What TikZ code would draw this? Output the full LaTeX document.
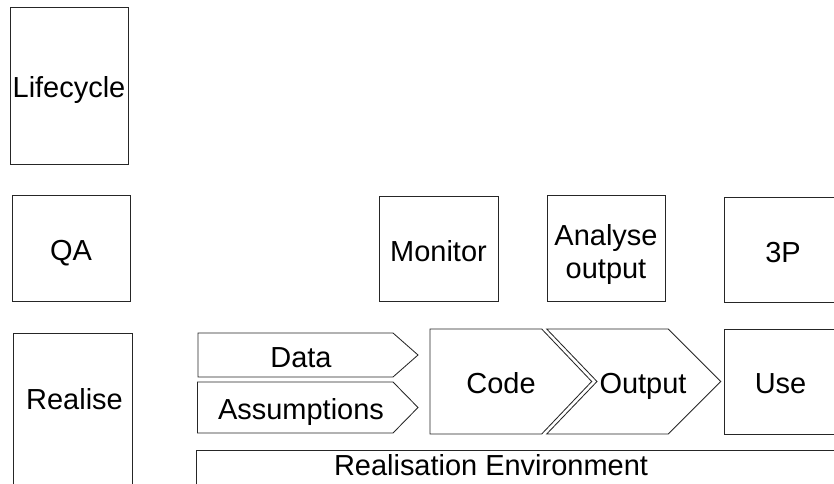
\documentclass[tikz,border=0pt]{standalone}
\usepackage{fontspec}
\setmainfont{Liberation Sans}
\usepackage{xcolor}
\usepackage{tikz}

\begin{document}
\begin{tikzpicture}[x=0.025cm, y=-0.025cm, line width=0.6pt, every node/.style={font=\fontsize{20.6}{23.4}\selectfont, inner sep=0pt, text height=17.7pt, text depth=0pt}]
	\clip (0, 0) rectangle (834, 484);
	
	\begin{scope}[
		box/.style={draw=black!85, fill=white, line width=0.6pt, minimum width=2.95cm, minimum height=2.64cm}]
		\node[box, minimum height=3.925cm] (L) at (69, 85.5) {Lifecycle};
		\node[box] (QA) at (71, 248.5) {QA};
		\node[box, minimum width=2.975cm] (M) at (438.5, 249) {Monitor};
		\node[box] (AO) at (606, 248.5) {};
		\node[box] (P3) at (783, 250) {3P};
		\node[box, minimum width=2.975cm, minimum height=4cm, anchor=north] (R) at (72.5, 333) {};
		\node[box, minimum width=2.825cm, minimum height=2.625cm] (U) at (780.5, 381.5) {Use};
	\end{scope}
	
	\draw[black!85] (198, 333) -- (393, 333) -- (418, 355) -- (393, 377) -- (198, 377) -- cycle;
	\draw[black!85] (197.5, 382) -- (393, 382) -- (418, 407.5) -- (393, 433) -- (197.5, 433) -- cycle;
	\draw[black!85] (430, 329) -- (541.7, 329) -- (591.7, 381.5) -- (541.7, 434) -- (430, 434) -- cycle;
	\draw[black!85] (546.7, 329) -- (668.3, 329) -- (720.7, 381.5) -- (668.3, 434) -- (546.7, 434) -- (597, 381.5) -- cycle;
	\draw[black!85] (196, 450) rectangle (845, 495);
	
	\node (AOT) at (606, 278.3) [anchor=base, align=center] {Analyse\\output};
	\node (RT) at (74.5, 397.5) {Realise};
	\node (D) at (301, 355) {Data};
	\node (A) at (301, 407.5) {Assumptions};
	\node (C) at (501, 381.5) {Code};
	\node (O) at (643, 381.5) {Output};
	\node (E) at (491, 463.2) {Realisation Environment};
\end{tikzpicture}
\end{document}
